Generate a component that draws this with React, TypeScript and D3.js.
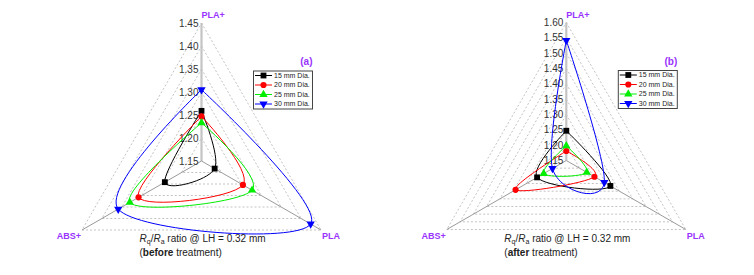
import React from "react";
import * as d3 from "d3";

const categories = ["PLA+", "PLA", "ABS+"];
const seriesNames = ["15 mm Dia.", "20 mm Dia.", "25 mm Dia.", "30 mm Dia."];
const seriesColors = ["#000000", "#ff0000", "#00ee00", "#0000ff"];

const beforeTicks = [1.15, 1.2, 1.25, 1.3, 1.35, 1.4, 1.45];
const afterTicks = [1.15, 1.2, 1.25, 1.3, 1.35, 1.4, 1.45, 1.5, 1.55, 1.6];

// values in order PLA+, PLA, ABS+
const before15 = [1.259, 1.183, 1.242];
const before20 = [1.247, 1.254, 1.308];
const before25 = [1.233, 1.277, 1.33];
const before30 = [1.305, 1.424, 1.359];

const after15 = [1.247, 1.316, 1.26];
const after20 = [1.181, 1.256, 1.341];
const after25 = [1.198, 1.227, 1.235];
const after30 = [1.542, 1.293, 1.202];

const FONT = "'Liberation Sans', Arial, sans-serif";
const PURPLE = "#9933ff";
const angles = [-90, 30, 150].map((a) => (a * Math.PI) / 180);
const symbols = [d3.symbolSquare, d3.symbolCircle, d3.symbolTriangle, d3.symbolTriangle];
const symbolSizes = [34, 30, 30, 30];
const symbolRot = [0, 0, 0, 180];

function Panel({ cx, cy, ticks, data, tag, word }) {
  const R = 138;
  const r = d3.scaleLinear().domain([ticks[0], ticks[ticks.length - 1]]).range([0, R]);
  const pt = (v: number, i: number) => [cx + r(v) * Math.cos(angles[i]), cy + r(v) * Math.sin(angles[i])];
  const line = d3.line().curve(d3.curveCardinal.tension(0));
  const tri = (rad: number) => angles.map((a) => [cx + rad * Math.cos(a), cy + rad * Math.sin(a)]);
  const lx = cx + 52;
  const ly = cy - 90;
  return (
    <g>
      {ticks.slice(1).map((t) => (
        <polygon key={t} points={tri(r(t)).map((p) => p.join(",")).join(" ")} fill="none" stroke="#b4b4b4" strokeWidth={0.8} strokeDasharray="2,2" />
      ))}
      {angles.map((a, i) => (
        <line key={i} x1={cx} y1={cy} x2={cx + R * Math.cos(a)} y2={cy + R * Math.sin(a)}
          stroke={i === 0 ? "#c4c4c4" : "#9a9a9a"} strokeWidth={i === 0 ? 2.2 : 1} />
      ))}
      {ticks.map((t) => (
        <text key={t} x={cx - 3} y={cy - r(t)} dy="0.36em" textAnchor="end" fontSize={10} fill="#333" fontFamily={FONT}>
          {t.toFixed(2)}
        </text>
      ))}
      {data.map((vals, s) => {
        const pts = vals.map((v, i) => pt(v, i));
        return <path key={s} d={line([...pts, pts[0]])} fill="none" stroke={seriesColors[s]} strokeWidth={1} />;
      })}
      {data.map((vals, s) =>
        vals.map((v, i) => {
          const [x, y] = pt(v, i);
          return (
            <path key={s + "-" + i} d={d3.symbol().type(symbols[s]).size(symbolSizes[s])()}
              transform={`translate(${x},${y}) rotate(${symbolRot[s]})`} fill={seriesColors[s]} />
          );
        })
      )}
      <text x={cx} y={cy - R - 5} fontSize={9} fontWeight="bold" fill={PURPLE} fontFamily={FONT}>{categories[0]}</text>
      <text x={cx + R * Math.cos(angles[1]) + 1} y={cy + R * Math.sin(angles[1]) + 9} fontSize={9} fontWeight="bold" fill={PURPLE} fontFamily={FONT}>{categories[1]}</text>
      <text x={cx + R * Math.cos(angles[2]) - 1} y={cy + R * Math.sin(angles[2]) + 9} textAnchor="end" fontSize={9} fontWeight="bold" fill={PURPLE} fontFamily={FONT}>{categories[2]}</text>
      <text x={lx + 59} y={ly - 6} textAnchor="end" fontSize={10} fontWeight="bold" fill={PURPLE} fontFamily={FONT}>{tag}</text>
      <rect x={lx} y={ly} width={59} height={38} fill="white" stroke="#444" strokeWidth={1} />
      {seriesNames.map((n, s) => {
        const yy = ly + 4.5 + s * 9.5;
        return (
          <g key={n}>
            <line x1={lx + 1.5} x2={lx + 18.5} y1={yy} y2={yy} stroke={seriesColors[s]} strokeWidth={1} />
            <path d={d3.symbol().type(symbols[s]).size(symbolSizes[s])()} transform={`translate(${lx + 10},${yy}) rotate(${symbolRot[s]})`} fill={seriesColors[s]} />
            <text x={lx + 20.5} y={yy} dy="0.35em" fontSize={7} fill="#222" fontFamily={FONT}>{n}</text>
          </g>
        );
      })}
      <text x={cx - 62} y={cy + 81} fontSize={10} fill="#222" fontFamily={FONT}>
        <tspan fontStyle="italic">R</tspan>
        <tspan fontSize={7} dy="2">q</tspan>
        <tspan dy="-2">/</tspan>
        <tspan fontStyle="italic">R</tspan>
        <tspan fontSize={7} dy="2">a</tspan>
        <tspan dy="-2"> ratio @ LH = 0.32 mm</tspan>
      </text>
      <text x={cx - 62} y={cy + 95} fontSize={10} fill="#222" fontFamily={FONT}>
        (<tspan fontWeight="bold">{word}</tspan> treatment)
      </text>
    </g>
  );
}

export default function App() {
  return (
    <svg width={754} height={275} style={{ position: "absolute", left: 0, top: 0, background: "white" }}>
      <rect width={754} height={275} fill="white" />
      <Panel cx={201.5} cy={161} ticks={beforeTicks} data={[before15, before20, before25, before30]} tag="(a)" word="before" />
      <Panel cx={566.3} cy={160.5} ticks={afterTicks} data={[after15, after20, after25, after30]} tag="(b)" word="after" />
    </svg>
  );
}
